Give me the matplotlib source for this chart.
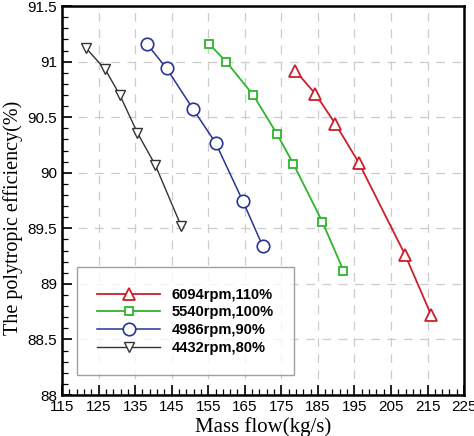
import matplotlib
matplotlib.use("Agg")
import matplotlib.pyplot as plt
import numpy as np
from matplotlib.ticker import FixedLocator

# speed lines: mass flow (kg/s) vs polytropic efficiency (%)
labels = ["6094rpm,110%", "5540rpm,100%", "4986rpm,90%", "4432rpm,80%"]

flow_110 = [178.8, 184.3, 189.8, 196.2, 208.9, 216.0]
eff_110 = [90.92, 90.71, 90.44, 90.09, 89.26, 88.72]

flow_100 = [155.2, 159.9, 167.3, 173.8, 178.3, 186.2, 192.0]
eff_100 = [91.16, 91.00, 90.70, 90.35, 90.08, 89.56, 89.12]

flow_90 = [138.2, 143.6, 150.9, 157.0, 164.4, 169.9]
eff_90 = [91.16, 90.94, 90.57, 90.27, 89.75, 89.34]

flow_80 = [121.6, 126.8, 130.8, 135.6, 140.5, 147.6]
eff_80 = [91.12, 90.93, 90.70, 90.36, 90.07, 89.52]

fig = plt.figure(figsize=(4.74, 4.36), dpi=100)
ax = fig.add_axes([0.131, 0.094, 0.848, 0.892])

ax.plot(flow_110, eff_110, color='#cc1f2b', lw=1.3, marker='^', ms=8,
        mfc='white', mec='#cc1f2b', mew=1.3, label=labels[0])
ax.plot(flow_100, eff_100, color='#2db52d', lw=1.3, marker='s', ms=5.5,
        mfc='white', mec='#2db52d', mew=1.3, label=labels[1])
ax.plot(flow_90, eff_90, color='#283593', lw=1.1, marker='o', ms=9,
        mfc='white', mec='#283593', mew=1.2, label=labels[2])
ax.plot(flow_80, eff_80, color='#333333', lw=1.0, marker='v', ms=7.5,
        mfc='white', mec='#333333', mew=1.0, label=labels[3])

ax.set_xlim(115, 225)
ax.set_ylim(88, 91.5)
ax.set_xticks(np.arange(115, 226, 10))
ax.xaxis.set_minor_locator(FixedLocator(np.arange(115, 226, 2)))
ax.set_yticks([88, 88.5, 89, 89.5, 90, 90.5, 91, 91.5])
ax.set_yticklabels(['88', '88.5', '89', '89.5', '90', '90.5', '91', '91.5'])
ax.yaxis.set_minor_locator(FixedLocator(np.arange(88, 91.55, 0.1)))

ax.grid(True, which='major', color='#cccccc', ls=(0, (7, 6)), lw=0.9)
ax.set_axisbelow(True)
ax.tick_params(which='both', direction='in', top=False, right=False)
ax.tick_params(which='major', length=7, width=1.2, labelsize=11)
ax.tick_params(which='minor', length=4, width=0.9)
for lab in ax.get_xticklabels() + ax.get_yticklabels():
    lab.set_fontfamily('Liberation Sans')
for s in ax.spines.values():
    s.set_linewidth(1.8)

ax.set_xlabel('Mass flow(kg/s)', fontfamily='Liberation Serif', fontsize=15, labelpad=2)
ax.set_ylabel('The polytropic efficiency(%)', fontfamily='Liberation Serif', fontsize=14.5)
ax.yaxis.set_label_coords(-0.098, 0.455)

leg = ax.legend(loc='lower left', bbox_to_anchor=(0.037, 0.051), handlelength=4.3,
                prop={'family': 'Liberation Sans', 'weight': 'bold', 'size': 10.5},
                fancybox=False, edgecolor='#888888', borderpad=1.4, labelspacing=0.25,
                handletextpad=0.8, borderaxespad=0)
leg.get_frame().set_linewidth(1.0)

fig.savefig('out.png', dpi=100)
